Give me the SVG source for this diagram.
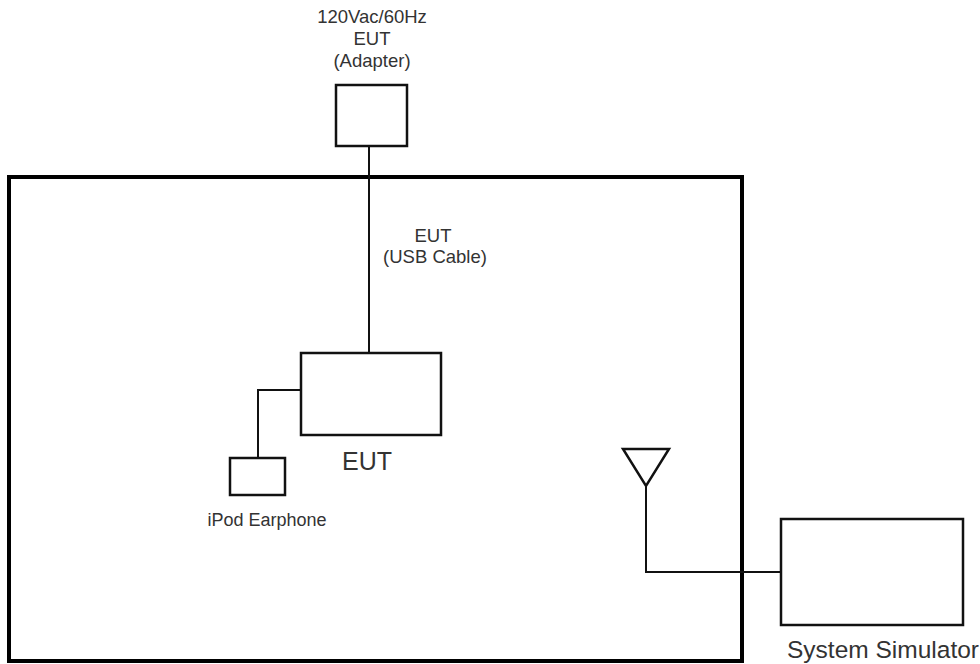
<svg xmlns="http://www.w3.org/2000/svg" width="980" height="664" viewBox="0 0 980 664">
<style>
.box{fill:#fff;stroke:#111;stroke-width:2.5}
.wire{fill:none;stroke:#111;stroke-width:2}
.t{font-family:"Liberation Sans",Arial,sans-serif;fill:#333;text-anchor:middle}
.s{font-size:18.5px}
</style>
<rect width="980" height="664" fill="#fff"/>
<g id="chamber"><rect x="9" y="177" width="733" height="484" fill="none" stroke="#000" stroke-width="4"/></g>
<g id="connectors">
<path class="wire" d="M369 146V353"/>
<path class="wire" d="M301 390H258V458"/>
<path class="wire" d="M646 486V572H781"/>
</g>
<g id="adapter">
<rect class="box" x="336" y="85" width="71" height="61"/>
<text class="t s" x="372" y="23">120Vac/60Hz</text>
<text class="t s" x="372" y="45">EUT</text>
<text class="t s" x="372" y="67">(Adapter)</text>
</g>
<text class="t s" x="433" y="242">EUT</text>
<text class="t s" x="435" y="263">(USB Cable)</text>
<g id="eut">
<rect class="box" x="301" y="353" width="140" height="82"/>
<text class="t" x="367" y="470" font-size="25">EUT</text>
</g>
<g id="earphone">
<rect class="box" x="230" y="458" width="55" height="37"/>
<text class="t" x="267" y="526" font-size="18">iPod Earphone</text>
</g>
<g id="antenna">
<polygon points="623,449 669,449 646,486" fill="#fff" stroke="#111" stroke-width="2.5"/>
</g>
<g id="simulator">
<rect class="box" x="781" y="519" width="182" height="106"/>
<text class="t" x="883" y="658" font-size="24.5">System Simulator</text>
</g>
</svg>
